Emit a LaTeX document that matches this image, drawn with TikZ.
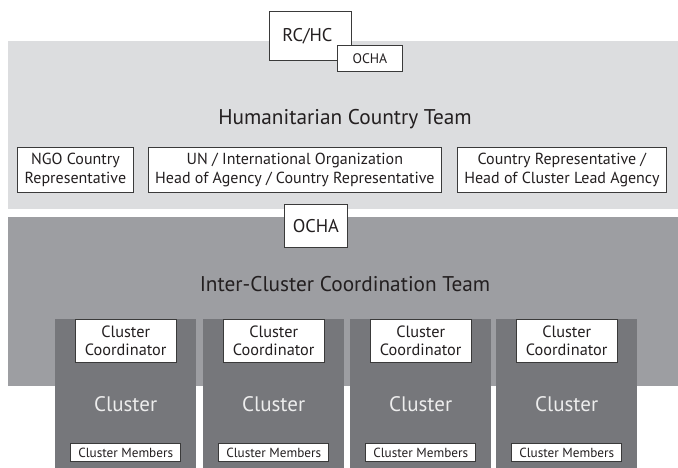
\documentclass[tikz,border=0pt]{standalone}
\usepackage{fontspec}
\setmainfont{PT Sans}
\usetikzlibrary{calc}
\definecolor{lightg}{HTML}{DCDDDF}
\definecolor{midg}{HTML}{9D9EA2}
\definecolor{darkg}{HTML}{76777B}
\definecolor{ink}{HTML}{231F20}
\definecolor{edge}{HTML}{3A3A3A}
\definecolor{cltext}{HTML}{EDEDED}
\begin{document}
\begin{tikzpicture}[x=1pt,y=-1pt,
  area/.style={draw=none,inner sep=0pt,anchor=north west},
  wbox/.style={draw=edge,line width=0.8pt,fill=white,inner sep=0pt,align=center,text=ink,anchor=north west},
  lbl/.style={text=ink,inner sep=0pt},
  clbl/.style={text=cltext,inner sep=0pt,font=\fontsize{21}{24}\selectfont}
]
\useasboundingbox (0,0) rectangle (678,468);
\fill[white] (0,0) rectangle (678,468);
% bands
\node[area,fill=lightg,minimum width=670pt,minimum height=168pt] (hct) at (8,41) {};
\node[area,fill=midg,minimum width=670pt,minimum height=169pt] (icct) at (8,217) {};
% cluster columns
\foreach \i/\x in {1/55,2/203,3/350,4/496}{
  \node[area,fill=darkg,minimum width=141pt,minimum height=149pt] (col\i) at (\x,319) {};
  \node[wbox,anchor=north,minimum width=101pt,minimum height=43pt,
        font=\fontsize{16.3}{18.5}\selectfont] (coord\i) at (col\i.north) {Cluster\\Coordinator};
  \node[clbl] (clu\i) at ($(col\i.north)+(0,85)$) {Cluster};
  \node[wbox,anchor=north,minimum width=110pt,minimum height=18pt,
        font=\fontsize{13.2}{14}\selectfont] (mem\i) at ($(col\i.north)+(0,124)$) {Cluster Members};
}
% RC/HC and OCHA
\node[wbox,minimum width=82pt,minimum height=49pt,font=\fontsize{18.4}{20}\selectfont] (rchc) at (269,11) {\raisebox{2pt}{RC/HC}\hspace*{6pt}};
\node[wbox,minimum width=65pt,minimum height=26pt,font=\fontsize{13.8}{15}\selectfont] (ocha1) at (337,45) {OCHA};
% HCT
\node[lbl,font=\fontsize{21.3}{24}\selectfont] (hcttxt) at (345,119) {Humanitarian Country Team};
\node[wbox,minimum width=116pt,minimum height=45pt,font=\fontsize{16}{19.5}\selectfont] (ngo) at (17,147) {NGO Country\\Representative};
\node[wbox,minimum width=293pt,minimum height=45pt,font=\fontsize{16}{19.5}\selectfont] (un) at (148,147) {UN / International Organization\\Head of Agency / Country Representative};
\node[wbox,minimum width=209pt,minimum height=45pt,font=\fontsize{16}{19.5}\selectfont] (crep) at (457,147) {Country Representative /\\Head of Cluster Lead Agency};
% ICCT
\node[wbox,minimum width=63pt,minimum height=43pt,font=\fontsize{18.4}{20}\selectfont] (ocha2) at (284,204) {OCHA};
\node[lbl,font=\fontsize{21.3}{24}\selectfont] (icctxt) at (345,284) {Inter-Cluster Coordination Team};
\end{tikzpicture}
\end{document}
